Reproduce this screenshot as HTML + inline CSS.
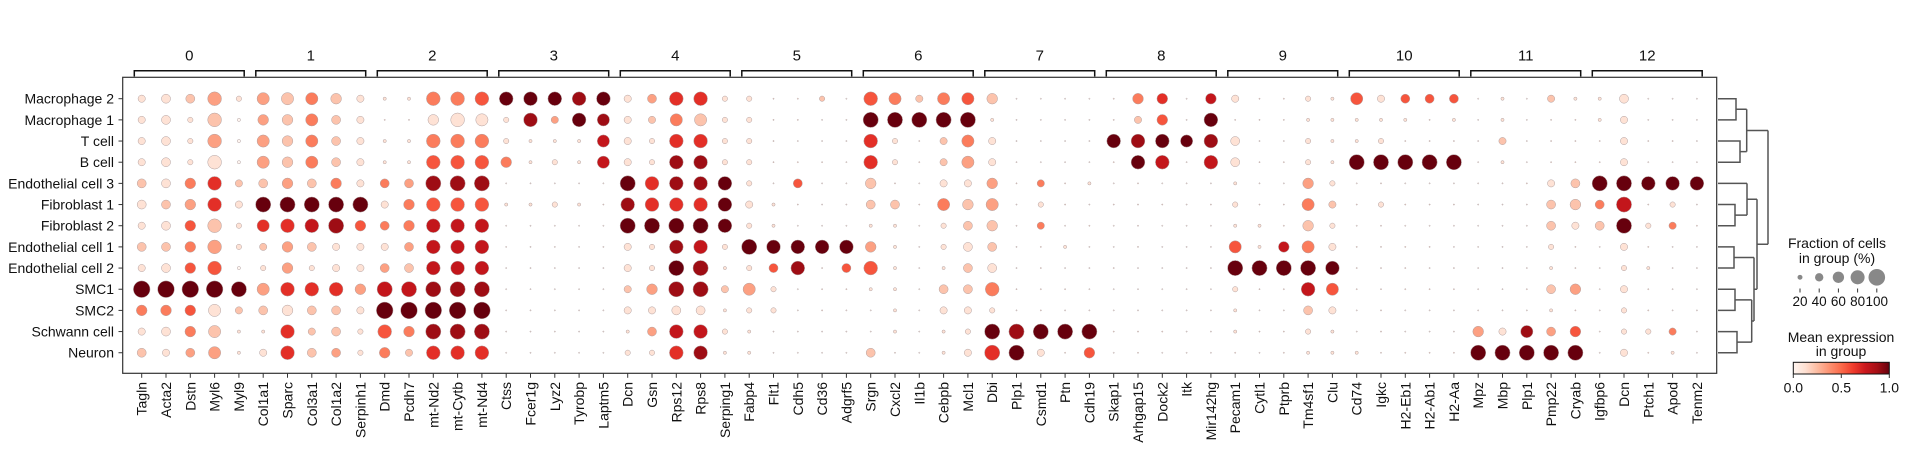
<!DOCTYPE html>
<html><head><meta charset="utf-8"><style>
body{margin:0;background:#fff;}
svg text{font-family:"Liberation Sans",Arial,sans-serif;fill:#111;}
</style></head><body>
<svg id="chart" width="1909" height="452" viewBox="0 0 1909 452" xmlns="http://www.w3.org/2000/svg">
<defs>
<linearGradient id="reds" x1="0" x2="1" y1="0" y2="0">
<stop offset="0" stop-color="#fff5f0"/><stop offset="0.125" stop-color="#fee0d2"/><stop offset="0.25" stop-color="#fcbba1"/><stop offset="0.375" stop-color="#fc9272"/><stop offset="0.5" stop-color="#fb6a4a"/><stop offset="0.625" stop-color="#ef3b2c"/><stop offset="0.75" stop-color="#cb181d"/><stop offset="0.875" stop-color="#a50f15"/><stop offset="1" stop-color="#67000d"/>
</linearGradient>
</defs>
<g id="plot"></g>
</svg>
<script>
const groups = ["0","1","2","3","4","5","6","7","8","9","10","11","12"];
const genes = ["Tagln","Acta2","Dstn","Myl6","Myl9","Col1a1","Sparc","Col3a1","Col1a2","Serpinh1","Dmd","Pcdh7","mt-Nd2","mt-Cytb","mt-Nd4","Ctss","Fcer1g","Lyz2","Tyrobp","Laptm5","Dcn","Gsn","Rps12","Rps8","Serping1","Fabp4","Flt1","Cdh5","Cd36","Adgrf5","Srgn","Cxcl2","Il1b","Cebpb","Mcl1","Dbi","Plp1","Csmd1","Ptn","Cdh19","Skap1","Arhgap15","Dock2","Itk","Mir142hg","Pecam1","Cytl1","Ptprb","Tm4sf1","Clu","Cd74","Igkc","H2-Eb1","H2-Ab1","H2-Aa","Mpz","Mbp","Plp1","Pmp22","Cryab","Igfbp6","Dcn","Ptch1","Apod","Tenm2"];
const cellTypes = ["Macrophage 2","Macrophage 1","T cell","B cell","Endothelial cell 3","Fibroblast 1","Fibroblast 2","Endothelial cell 1","Endothelial cell 2","SMC1","SMC2","Schwann cell","Neuron"];
// each token: first digit = fraction level (0-9, x/9 of 100%), second = mean expression level (0-9, x/9)
const dotCodes = [
"31 41 42 73 21 63 62 64 52 31 11 11 74 74 75 79 79 79 78 79 31 43 76 76 21 21 01 01 22 00 75 64 32 64 65 52 00 00 00 00 01 54 56 00 57 31 01 01 21 11 65 31 45 45 45 00 11 00 32 11 11 41 00 00 00",
"31 41 21 72 10 53 52 64 42 31 01 01 51 71 61 21 78 33 79 68 31 32 64 62 21 21 01 01 00 00 89 89 89 89 89 11 00 00 00 00 01 32 55 00 79 01 01 01 11 11 11 11 11 01 11 00 11 00 01 01 11 31 00 00 00",
"31 41 21 73 10 63 52 64 42 31 11 11 74 74 74 21 11 11 11 67 31 21 76 76 21 21 01 00 00 00 76 21 01 32 64 31 00 00 00 00 79 78 79 69 78 41 00 00 21 11 11 21 01 01 01 00 32 00 01 01 01 31 01 01 00",
"31 41 21 71 10 63 52 64 42 31 11 11 75 75 75 54 11 21 11 67 31 21 78 78 21 21 01 01 01 00 76 21 01 32 63 31 00 00 00 00 01 79 77 00 77 41 01 01 21 11 89 89 89 89 89 00 11 00 01 01 01 31 00 00 00",
"42 41 54 76 32 42 53 42 54 31 44 43 88 88 88 00 00 00 00 00 89 76 78 78 79 21 00 45 00 00 52 01 00 31 31 53 01 34 01 11 00 01 00 00 00 11 00 00 53 21 00 01 00 00 00 00 00 01 31 42 89 89 79 79 79",
"41 42 53 76 31 89 89 89 89 89 31 54 75 75 75 11 11 21 11 01 78 76 76 76 79 31 11 01 00 00 42 42 01 64 52 63 00 21 01 00 01 01 01 00 01 21 01 01 64 32 01 21 01 01 01 00 00 00 42 52 44 87 01 21 00",
"31 41 55 72 21 66 76 77 88 55 44 54 77 77 77 00 00 00 00 00 89 89 89 89 79 21 11 00 00 00 11 11 00 21 42 52 00 34 00 01 00 01 00 00 00 11 11 01 52 21 00 01 00 00 00 00 00 00 42 31 42 89 21 34 01",
"42 42 54 73 21 32 53 42 31 31 31 43 77 77 77 00 00 00 00 00 31 21 78 77 21 89 79 79 79 79 53 11 00 21 41 42 00 01 11 00 00 01 00 00 00 65 11 57 64 31 01 01 01 01 00 00 00 00 21 01 00 31 01 00 00",
"31 41 55 75 10 21 53 21 31 31 43 42 77 77 77 00 00 00 00 00 31 21 89 88 11 21 45 78 01 45 75 11 00 11 42 41 00 01 00 00 01 00 00 00 00 89 89 89 89 79 01 01 01 00 01 00 00 00 11 01 00 21 11 00 00",
"99 99 99 99 89 63 76 76 76 53 87 87 88 88 88 00 00 00 00 00 32 53 88 88 32 63 21 00 01 01 11 11 00 42 42 74 01 01 01 00 00 00 00 00 00 21 01 01 77 65 01 01 01 01 01 00 00 01 42 53 00 31 01 00 00",
"54 54 55 61 32 42 51 42 42 31 99 99 99 99 99 00 00 00 00 00 31 31 41 41 11 21 21 00 01 00 00 11 00 31 31 21 00 01 00 00 00 00 00 00 00 11 00 00 42 31 00 01 00 00 00 00 00 00 11 01 00 21 01 00 00",
"31 41 54 62 11 11 76 32 42 21 75 54 88 88 88 00 00 00 00 00 11 43 77 77 21 11 00 00 00 00 00 11 00 11 21 89 88 89 89 89 01 01 01 00 00 11 01 01 21 11 00 01 00 00 00 53 31 68 43 55 00 21 21 34 00",
"42 31 43 63 11 31 76 42 43 21 54 32 76 76 76 00 00 00 00 00 21 21 76 78 11 11 00 00 00 00 42 01 00 11 31 86 89 31 01 55 00 01 00 00 00 01 00 01 11 11 11 01 01 01 01 89 89 89 89 89 00 31 01 11 00"
];
const sizeTicks = [20,40,60,80,100];
const colorTicks = ["0.0","0.5","1.0"];

const NS="http://www.w3.org/2000/svg";
const root=document.getElementById('plot');
function mk(tag,attrs,parent){const e=document.createElementNS(NS,tag);for(const k in attrs)e.setAttribute(k,attrs[k]);(parent||root).appendChild(e);return e;}
const X0=141.7,DX=24.3,Y0=98.7,DY=21.17;
const xs=i=>X0+DX*i, ys=r=>Y0+DY*r;
const RMAX=8.3;
const rad=f=>Math.max(0.6,RMAX*Math.pow(f/100,0.75));
const stops=[[255,245,240],[254,224,210],[252,187,161],[252,146,114],[251,106,74],[239,59,44],[203,24,29],[165,15,21],[103,0,13]];
function reds(v){v=Math.max(0,Math.min(1,v));const p=v*8,i=Math.min(7,Math.floor(p)),t=p-i;const a=stops[i],b=stops[i+1];return 'rgb('+a.map((c,k)=>Math.round(c+(b[k]-c)*t)).join(',')+')';}

// frame
const fr=mk('rect',{x:122.7,y:77.3,width:1594,height:296,fill:'none',stroke:'#333','stroke-width':1.2});



// group brackets
groups.forEach((g,gi)=>{
  const x0=xs(gi*5)-7.4,x1=xs(gi*5+4)+5.3;
  const p=mk('path',{d:`M${x0},76.5V70.7H${x1}V76.5`,fill:'none',stroke:'#111','stroke-width':1.5});
  
  
  const t=mk('text',{x:(x0+x1)/2,y:56,'text-anchor':'middle','dominant-baseline':'central','font-size':15});
  t.textContent=g;
  
  
});

// y labels
cellTypes.forEach((c,r)=>{
  mk('line',{x1:118.5,x2:122.7,y1:ys(r),y2:ys(r),stroke:'#333','stroke-width':1});
  const t=mk('text',{x:114,y:ys(r),'text-anchor':'end','dominant-baseline':'central','font-size':14});
  t.textContent=c;
  
  
});
// x labels
genes.forEach((g,i)=>{
  mk('line',{x1:xs(i),x2:xs(i),y1:373.3,y2:377.8,stroke:'#333','stroke-width':1});
  const t=mk('text',{x:xs(i),y:382,'text-anchor':'end','dominant-baseline':'central','font-size':14,transform:`rotate(-90 ${xs(i)} 382)`});
  t.textContent=g;
  
  
});
// dots
dotCodes.forEach((row,r)=>{
  row.split(' ').forEach((tok,i)=>{
    const frac=parseInt(tok[0])/9*100, expr=parseInt(tok[1])/9;
    const c=mk('circle',{cx:xs(i),cy:ys(r),r:rad(frac),fill:reds(expr),stroke:'#b0a0a0','stroke-width':0.5});
    
    
  });
});

// dendrogram
const Y=ys;
const a=(Y(0)+Y(1))/2,b=(Y(2)+Y(3))/2,c=(a+b)/2,d=(Y(5)+Y(6))/2,e=(Y(4)+d)/2,f=(Y(7)+Y(8))/2,g=(Y(9)+Y(10))/2,h=(Y(11)+Y(12))/2,ii=(g+h)/2,j=(f+ii)/2,k=(e+j)/2;
const L=1718;
const dp=[
`M${L},${Y(0)}H1736V${Y(1)}H${L}`,`M1736,${a}H1746.7`,
`M${L},${Y(2)}H1740V${Y(3)}H${L}`,`M1740,${b}H1746.7`,`M1746.7,${a}V${b}`,`M1746.7,${c}H1768`,
`M${L},${Y(4)}H1747`,`M${L},${Y(5)}H1735V${Y(6)}H${L}`,`M1735,${d}H1747`,`M1747,${Y(4)}V${d}`,`M1747,${e}H1757`,
`M${L},${Y(7)}H1734V${Y(8)}H${L}`,`M1734,${f}H1754`,
`M${L},${Y(9)}H1735V${Y(10)}H${L}`,`M1735,${g}H1751.7`,
`M${L},${Y(11)}H1737V${Y(12)}H${L}`,`M1737,${h}H1751.7`,`M1751.7,${g}V${h}`,`M1751.7,${ii}H1754`,
`M1754,${f}V${ii}`,`M1754,${j}H1757`,`M1757,${e}V${j}`,`M1757,${k}H1768`,`M1768,${c}V${k}`
];
const dg=mk('path',{d:dp.join(''),fill:'none',stroke:'#555','stroke-width':1.5});



// size legend
const t1=mk('text',{x:1837,y:243,'text-anchor':'middle','dominant-baseline':'central','font-size':14});
t1.textContent='Fraction of cells';


const t2=mk('text',{x:1837,y:258,'text-anchor':'middle','dominant-baseline':'central','font-size':14});
t2.textContent='in group (%)';


sizeTicks.forEach((s,n)=>{
  const x=1800+19.2*n;
  const cc=mk('circle',{cx:x,cy:277.3,r:rad(s),fill:'#888'});
  
  
  mk('line',{x1:x,x2:x,y1:288.5,y2:292.5,stroke:'#333','stroke-width':1});
  const tt=mk('text',{x:x,y:301.5,'text-anchor':'middle','dominant-baseline':'central','font-size':13.5});
  tt.textContent=s;
  
  
});
// color legend
const t3=mk('text',{x:1841,y:337,'text-anchor':'middle','dominant-baseline':'central','font-size':14});
t3.textContent='Mean expression';


const t4=mk('text',{x:1841,y:351,'text-anchor':'middle','dominant-baseline':'central','font-size':14});
t4.textContent='in group';


const cb=mk('rect',{x:1793.3,y:362.3,width:96,height:11.7,fill:'url(#reds)',stroke:'#111','stroke-width':1});


colorTicks.forEach((s,n)=>{
  const x=1793.3+48*n;
  mk('line',{x1:x,x2:x,y1:374,y2:378,stroke:'#333','stroke-width':1});
  const tt=mk('text',{x:x,y:387.5,'text-anchor':'middle','dominant-baseline':'central','font-size':14});
  tt.textContent=s;
  
  
});
</script>
</body></html>
